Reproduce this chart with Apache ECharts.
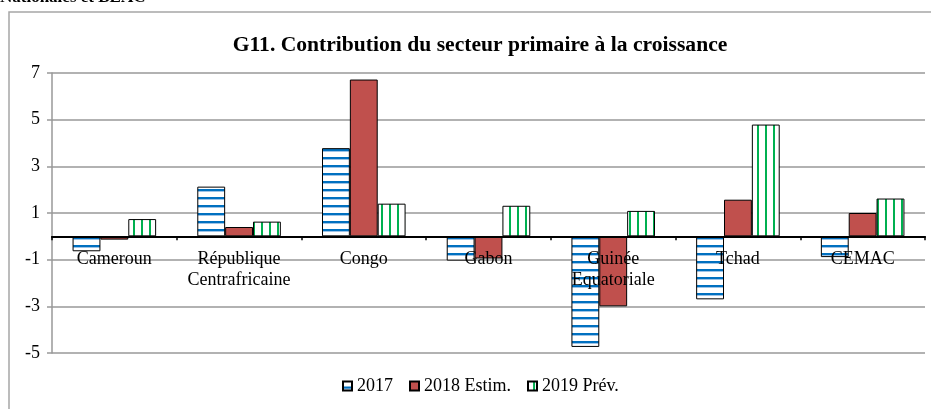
<!DOCTYPE html>
<html>
<head>
<meta charset="utf-8">
<script src="https://cdn.jsdelivr.net/npm/echarts@6/dist/echarts.min.js"></script>
<style>
  html, body { margin: 0; padding: 0; background: #fff; }
  #chart { width: 931px; height: 409px; }
</style>
</head>
<body>
<div id="chart"></div>
<script>
// données
const categories = ['Cameroun', 'République\nCentrafricaine', 'Congo', 'Gabon', 'Guinée\nEquatoriale', 'Tchad', 'CEMAC'];
const serie2017 = [-0.64, 2.13, 3.78, -1.04, -4.74, -2.7, -0.89];
const serie2018 = [-0.14, 0.4, 6.72, -0.95, -3.0, 1.57, 1.0];
const serie2019 = [0.74, 0.63, 1.4, 1.31, 1.09, 4.79, 1.62];
const legendNames = ['2017', '2018 Estim.', '2019 Prév.'];
const yTicks = [-5, -3, -1, 1, 3, 5, 7];

const fontFamily = "'Liberation Serif', 'Times New Roman', serif";

// motifs de remplissage (hachures)
function stripes(horizontal) {
    let c = document.createElement('canvas');
    c.width = 8; c.height = 8;
    let ctx = c.getContext('2d');
    ctx.fillStyle = '#fff';
    ctx.fillRect(0, 0, 8, 8);
    if (horizontal) {
        ctx.fillStyle = '#0070C0';
        ctx.fillRect(0, 5, 8, 2);
        ctx.fillStyle = '#9DC3E6';
        ctx.fillRect(0, 7, 8, 1);
    } else {
        ctx.fillStyle = '#00B050';
        ctx.fillRect(5, 0, 2, 8);
    }
    return c;
}

let myChart = echarts.init(document.getElementById('chart'), null, {renderer: 'canvas'});

const barBase = {
    type: 'bar',
    barGap: 0,
    barCategoryGap: '33%',
    z: 2
};

myChart.setOption({
    animation: false,
    textStyle: {fontFamily: fontFamily},
    title: {
        text: 'G11. Contribution du secteur primaire à la croissance',
        left: 475,
        textAlign: 'center',
        top: 29,
        textStyle: {fontFamily: fontFamily, fontSize: 21.6, fontWeight: 'bold', color: '#000'}
    },
    graphic: [
        {
            type: 'rect',
            shape: {x: 9, y: 12, width: 1000, height: 500},
            style: {fill: 'none', stroke: '#a6a6a6', lineWidth: 1.5},
            silent: true
        },
        {
            type: 'text',
            left: 0,
            top: -11,
            style: {text: 'Nationales et BEAC', font: 'bold 17px ' + fontFamily, fill: '#000'}
        }
    ],
    legend: {
        left: 342,
        top: 377,
        padding: 0,
        itemWidth: 9,
        itemHeight: 9,
        itemGap: 16,
        icon: 'rect',
        textStyle: {fontFamily: fontFamily, fontSize: 18, color: '#000'},
        data: legendNames
    },
    grid: {left: 52, right: 6, top: 73, bottom: 56},
    xAxis: {
        type: 'category',
        data: categories,
        z: 5,
        axisLine: {onZero: true, lineStyle: {color: '#000', width: 2}},
        axisTick: {show: true, length: 4, lineStyle: {color: '#000', width: 1.5}},
        // les libellés sont remontés près de l'axe zéro
        axisLabel: {interval: 0, margin: -104, fontSize: 18, lineHeight: 21, color: '#000', fontFamily: fontFamily},
        splitLine: {show: false}
    },
    yAxis: {
        type: 'value',
        min: -5,
        max: 7,
        axisLine: {show: true, lineStyle: {color: '#999', width: 1.5}},
        axisTick: {show: true, length: 5, customValues: yTicks, lineStyle: {color: '#999', width: 1.5}},
        axisLabel: {customValues: yTicks, margin: 12, fontSize: 18, color: '#000', fontFamily: fontFamily},
        splitLine: {show: true, lineStyle: {color: '#999', width: 1.5}}
    },
    series: [
        Object.assign({}, barBase, {
            name: legendNames[0],
            data: serie2017,
            itemStyle: {color: {image: stripes(true), repeat: 'repeat'}, borderColor: '#000', borderWidth: 1}
        }),
        Object.assign({}, barBase, {
            name: legendNames[1],
            data: serie2018,
            itemStyle: {color: '#C0504D', borderColor: '#000', borderWidth: 1}
        }),
        Object.assign({}, barBase, {
            name: legendNames[2],
            data: serie2019,
            itemStyle: {color: {image: stripes(false), repeat: 'repeat'}, borderColor: '#000', borderWidth: 1}
        })
    ]
});
</script>
</body>
</html>
